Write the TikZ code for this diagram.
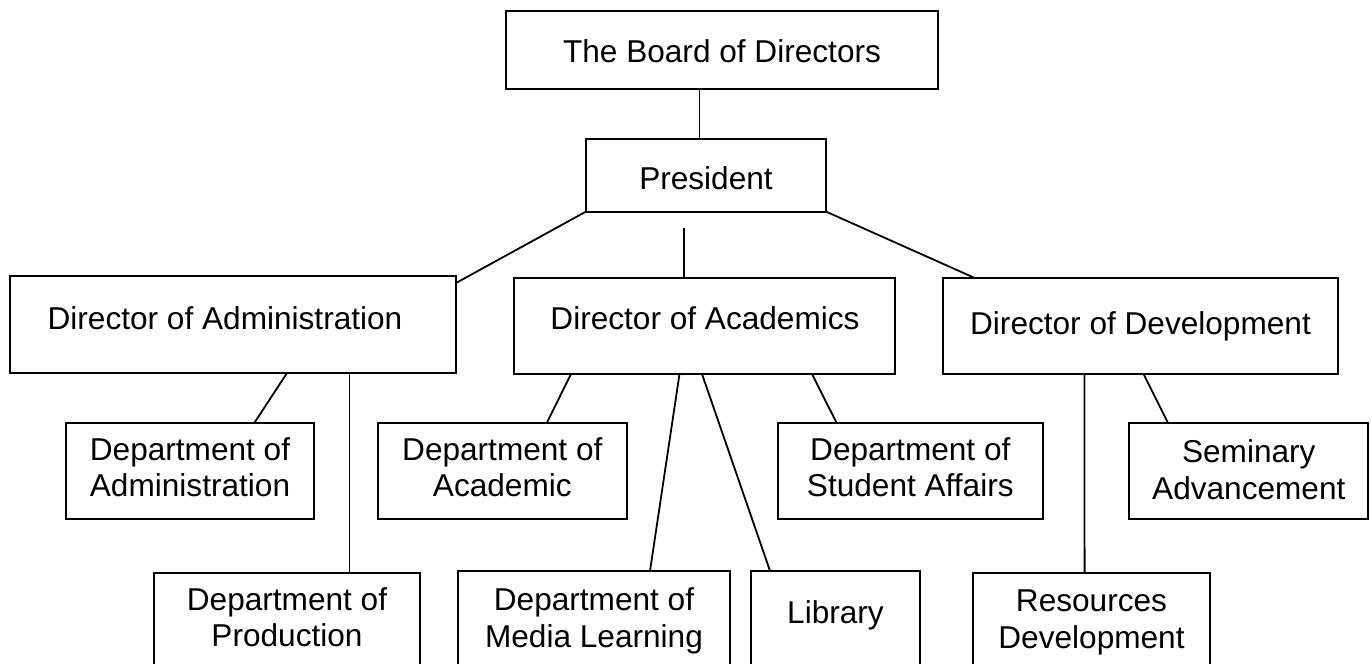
\documentclass[tikz,border=0pt]{standalone}
\usepackage{fontspec}
\setmainfont{Liberation Sans}
\begin{document}
\begin{tikzpicture}[x=0.5pt,y=-0.5pt,
  box/.style={draw, line width=1.1pt, inner sep=0pt, outer sep=0pt},
  conn/.style={line width=0.9pt},
  txt/.style={font=\fontsize{15.8}{18.35}\selectfont, align=center, inner sep=0pt, anchor=base}]
\path[use as bounding box] (0,0) rectangle (1371,664);
\clip (0,0) rectangle (1371,664);
% boxes
\node[box, minimum width=216pt, minimum height=39.2pt] (board) at (722,50) {};
\node[box, minimum width=120pt, minimum height=36.3pt] (pres) at (706,175.3) {};
\node[box, minimum width=223pt, minimum height=48.5pt] (diradmin) at (233,324.5) {};
\node[box, minimum width=190.5pt, minimum height=48.2pt] (diracad) at (704.5,325.8) {};
\node[box, minimum width=197.7pt, minimum height=48.2pt] (dirdev) at (1140.3,325.8) {};
\node[box, minimum width=124pt, minimum height=48pt] (deptadmin) at (190,470.7) {};
\node[box, minimum width=124.7pt, minimum height=48pt] (deptacad) at (502.3,470.7) {};
\node[box, minimum width=132.3pt, minimum height=48pt] (studaff) at (910.3,470.7) {};
\node[box, minimum width=119.7pt, minimum height=48pt] (seminary) at (1248.3,470.7) {};
\node[box, minimum width=133pt, minimum height=63.5pt] (production) at (287,636.5) {};
\node[box, minimum width=136pt, minimum height=64.5pt] (media) at (594,635.5) {};
\node[box, minimum width=84.2pt, minimum height=64.7pt] (library) at (835.5,635.3) {};
\node[box, minimum width=118.5pt, minimum height=63.5pt] (resources) at (1091.5,636.5) {};
% texts (anchor=base is the baseline of the last line)
\node[txt] (t-board) at (722,62.5) {The Board of Directors};
\node[txt] (t-pres) at (706,189) {President};
\node[txt] (t-diradmin) at (225,329.3) {Director of Administration};
\node[txt] (t-diracad) at (705,329.5) {Director of Academics};
\node[txt] (t-dirdev) at (1140.5,334) {Director of Development};
\node[txt] (t-deptadmin) at (190,496.7) {Department of\\Administration};
\node[txt] (t-deptacad) at (502.3,496.7) {Department of\\Academic};
\node[txt] (t-studaff) at (910.3,496.7) {Department of\\Student Affairs};
\node[txt] (t-seminary) at (1248.8,499.3) {Seminary\\Advancement};
\node[txt] (t-production) at (287,646.7) {Department of\\Production};
\node[txt] (t-media) at (594,647) {Department of\\Media Learning};
\node[txt] (t-library) at (835.5,623) {Library};
\node[txt] (t-resources) at (1091.5,648.5) {Resources\\Development};
% connectors
\coordinate (pmid) at (684.3,228);
\draw[conn] ([xshift=-11.25pt]board.south) -- ([xshift=-3.25pt]pres.north);
\draw[conn] (pres.south west) -- ([yshift=-3.5pt]diradmin.north east);
\draw[conn] (pmid) -- (pmid |- diracad.north);
\draw[conn] (pres.south east) -- ([xshift=15.65pt]dirdev.north west);
\draw[conn] ([xshift=138.5pt]diradmin.south west) -- ([xshift=94.25pt]deptadmin.north west);
\draw[conn] ([xshift=169.75pt]diradmin.south west) -- ([xshift=97.75pt]production.north west);
\draw[conn] ([xshift=28.5pt]diracad.south west) -- ([xshift=84.65pt]deptacad.north west);
\draw[conn] ([xshift=82.75pt]diracad.south west) -- ([xshift=96pt]media.north west);
\draw[conn] ([xshift=94pt]diracad.south west) -- ([xshift=9.3pt]library.north west);
\draw[conn] ([xshift=149pt]diracad.south west) -- ([xshift=29.25pt]studaff.north west);
\draw[conn] ([xshift=70.95pt]dirdev.south west) -- ([xshift=55.8pt]resources.north west);
\draw[conn] ([xshift=100.45pt]dirdev.south west) -- ([xshift=19.65pt]seminary.north west);
\end{tikzpicture}
\end{document}
